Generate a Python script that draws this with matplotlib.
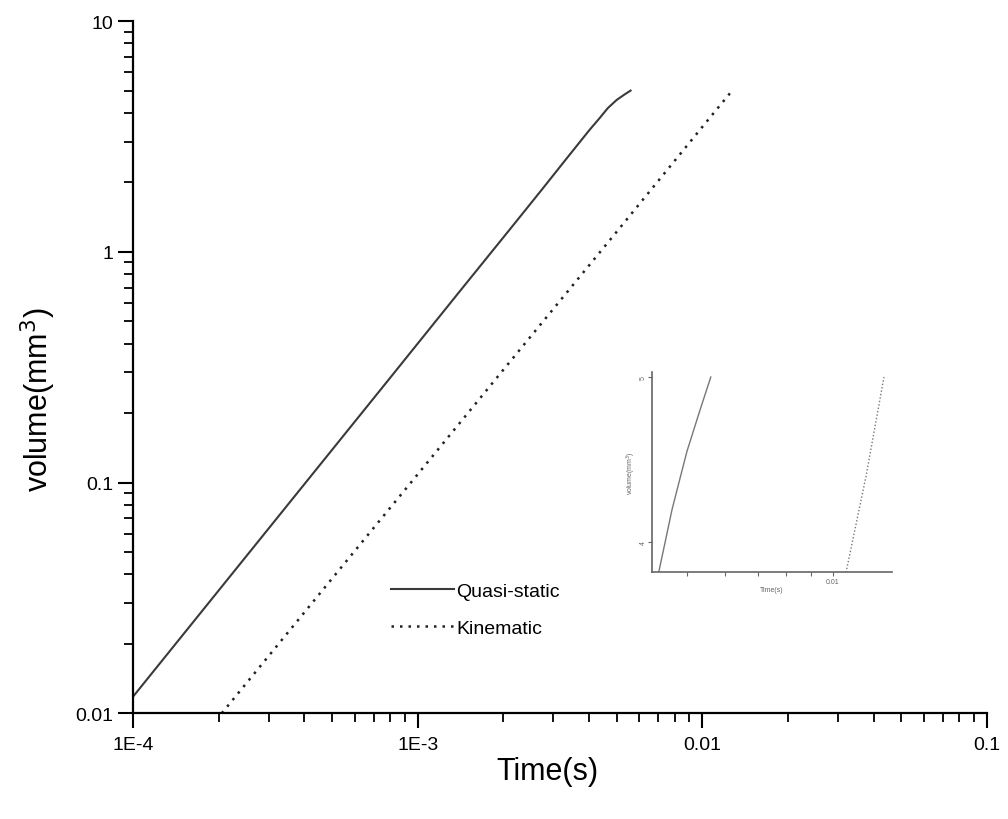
import matplotlib.pyplot as plt
from matplotlib.ticker import FixedLocator, NullFormatter, LogLocator

plt.rcParams['font.family'] = ['Liberation Sans', 'DejaVu Sans']

# Quasi-static curve
quasi_t = [1e-4, 7.85e-4, 1.4e-3, 2.14e-3, 2.75e-3, 3.33e-3, 4.02e-3,
           4.36e-3, 4.66e-3, 5.0e-3, 5.32e-3, 5.6e-3]
quasi_v = [0.0118, 0.276, 0.67, 1.28, 1.88, 2.53, 3.38,
           3.8, 4.2, 4.55, 4.8, 5.0]

# Kinematic curve
kin_t = [2.05e-4, 5e-4, 1e-3, 2e-3, 5e-3, 1.059e-2, 1.17e-2, 1.274e-2]
kin_v = [0.01, 0.0383, 0.1085, 0.308, 1.22, 3.79, 4.4, 5.0]

xticks = [1e-4, 1e-3, 1e-2, 1e-1]
xlabels = ['1E-4', '1E-3', '0.01', '0.1']
yticks = [0.01, 0.1, 1, 10]
ylabels = ['0.01', '0.1', '1', '10']

fig = plt.figure(figsize=(10.08, 8.2), dpi=100)
ax = fig.add_axes([0.132, 0.129, 0.847, 0.844])

ax.plot(quasi_t, quasi_v, color='#3a3a3a', lw=1.5, label='Quasi-static')
ax.plot(kin_t, kin_v, color='#222222', lw=1.8, ls=(0, (1.0, 2.4)), label='Kinematic')

ax.set_xscale('log')
ax.set_yscale('log')
ax.set_xlim(1e-4, 1e-1)
ax.set_ylim(0.01, 10)
ax.set_xticks(xticks)
ax.set_xticklabels(xlabels)
ax.set_yticks(yticks)
ax.set_yticklabels(ylabels)
ax.xaxis.set_minor_locator(LogLocator(base=10, subs=range(2, 10)))
ax.yaxis.set_minor_locator(LogLocator(base=10, subs=range(2, 10)))
ax.xaxis.set_minor_formatter(NullFormatter())
ax.yaxis.set_minor_formatter(NullFormatter())

for s in ['top', 'right']:
    ax.spines[s].set_visible(False)
for s in ['left', 'bottom']:
    ax.spines[s].set_linewidth(1.6)
ax.tick_params(which='major', direction='out', length=10.5, width=1.5, labelsize=14)
ax.tick_params(which='minor', direction='out', length=6.5, width=1.3)
ax.tick_params(axis='x', which='major', pad=6)

ax.set_xlabel('Time(s)', fontsize=22)
ax.set_ylabel('volume(mm$^3$)', fontsize=22)
ax.xaxis.set_label_coords(0.485, -0.062)
ax.yaxis.set_label_coords(-0.088, 0.454)

ax.legend(loc='upper left', bbox_to_anchor=(0.282, 0.215), frameon=False,
          fontsize=14, handlelength=3.2, handletextpad=0.15, labelspacing=1.0)

# inset
ins = fig.add_axes([0.647, 0.301, 0.238, 0.244])
ins.plot(quasi_t, quasi_v, color='#777777', lw=1.0)
ins.plot(kin_t, kin_v, color='#777777', lw=1.0, ls=(0, (1, 1.5)))
ins.set_xscale('log')
ins.set_xlim(0.00424, 0.01324)
ins.set_ylim(3.82, 5.03)
ins.xaxis.set_major_locator(FixedLocator([0.01]))
ins.xaxis.set_minor_locator(FixedLocator([0.005, 0.006, 0.007, 0.008, 0.009]))
ins.xaxis.set_minor_formatter(NullFormatter())
ins.set_xticklabels(['0.01'])
ins.set_yticks([4, 5])
ins.set_yticklabels(['4', '5'], rotation=90, va='center')
for s in ['top', 'right']:
    ins.spines[s].set_visible(False)
for s in ['left', 'bottom']:
    ins.spines[s].set_linewidth(1.2)
    ins.spines[s].set_color('#666666')
ins.tick_params(which='both', direction='out', length=3, width=0.8, labelsize=5,
                colors='#666666', pad=1)
ins.set_xlabel('Time(s)', fontsize=5, color='#666666', labelpad=1)
ins.set_ylabel('volume(mm$^3$)', fontsize=5, color='#666666', labelpad=1)

fig.savefig('out.png', dpi=100)
